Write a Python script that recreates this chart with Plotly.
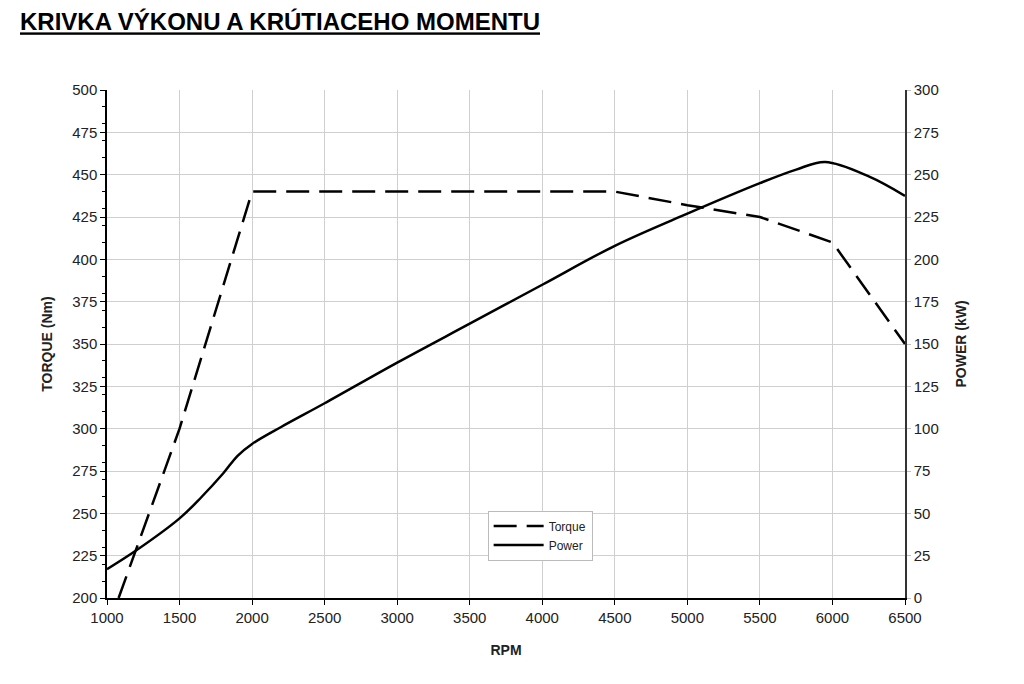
import plotly.graph_objects as go

rpm_torque = [1080, 1500, 2000, 4500, 5000, 5500, 6000, 6500]
torque_nm = [200, 300, 440, 440, 432, 425, 410, 350]

rpm_power = [1000, 1200, 1500, 1650, 1800, 1900, 2000, 2200, 2500, 3000, 3500, 4000, 4500, 5000, 5500, 5750, 5950, 6250, 6500]
power_kw = [17, 28, 47, 59.5, 73.5, 84, 91, 101, 115, 139, 162, 185, 208, 227, 245, 253, 257.5, 249, 237.5]

x_ticks = [1000, 1500, 2000, 2500, 3000, 3500, 4000, 4500, 5000, 5500, 6000, 6500]
torque_ticks = list(range(200, 501, 25))
power_ticks = list(range(0, 301, 25))

title_text = "KRIVKA VÝKONU A KRÚTIACEHO MOMENTU"

fig = go.Figure()
fig.add_trace(go.Scatter(x=rpm_torque, y=torque_nm, mode="lines", name="Torque",
                         line=dict(color="black", width=2.5, dash="23px,10px")))
fig.add_trace(go.Scatter(x=rpm_power, y=power_kw, mode="lines", name="Power", yaxis="y2",
                         line=dict(color="black", width=2.5, shape="spline", smoothing=1.0)))

fnt = dict(family="Liberation Sans, Arial", size=15, color="#222")
fig.update_layout(
    width=1008, height=668,
    paper_bgcolor="white", plot_bgcolor="white",
    margin=dict(l=99, r=111, t=82, b=78),
    font=fnt,
    showlegend=True,
    title=dict(text="<b><u>" + title_text + "</u></b>", xref="container", yref="container",
               x=12 / 1008, y=1 - 14 / 668, xanchor="left", yanchor="middle",
               font=dict(family="Liberation Sans, Arial", size=24, color="black")),
    legend=dict(x=0.477, y=0.172, xanchor="left", yanchor="top",
                bordercolor="#bbbbbb", borderwidth=1, bgcolor="white",
                font=dict(family="Liberation Sans, Arial", size=12, color="#222"),
                itemwidth=50, tracegroupgap=2),
    xaxis=dict(range=[1000, 6500], tickvals=x_ticks, showgrid=True, gridcolor="#cfcfcf", gridwidth=1,
               showline=True, linecolor="black", linewidth=1.5, ticks="outside", ticklen=5,
               tickcolor="black", zeroline=False,
               title=dict(text="<b>RPM</b>", font=dict(size=14), standoff=20)),
    yaxis=dict(range=[200, 500], tickvals=torque_ticks, showgrid=True, gridcolor="#cfcfcf",
               showline=True, linecolor="black", linewidth=1.5, ticks="outside", ticklen=5,
               tickcolor="black", zeroline=False,
               minor=dict(dtick=10, ticks="outside", ticklen=3, tickcolor="black", showgrid=False),
               title=dict(text="<b>TORQUE (Nm)</b>", font=dict(size=14), standoff=16)),
    yaxis2=dict(range=[0, 300], tickvals=power_ticks, overlaying="y", side="right", showgrid=False,
                showline=True, linecolor="#333", linewidth=1.5, ticks="outside", ticklen=4,
                tickcolor="#c0c0c0", zeroline=False,
                title=dict(text="<b>POWER (kW)</b>", font=dict(size=14), standoff=18)),
)
fig.write_html("out.html")
